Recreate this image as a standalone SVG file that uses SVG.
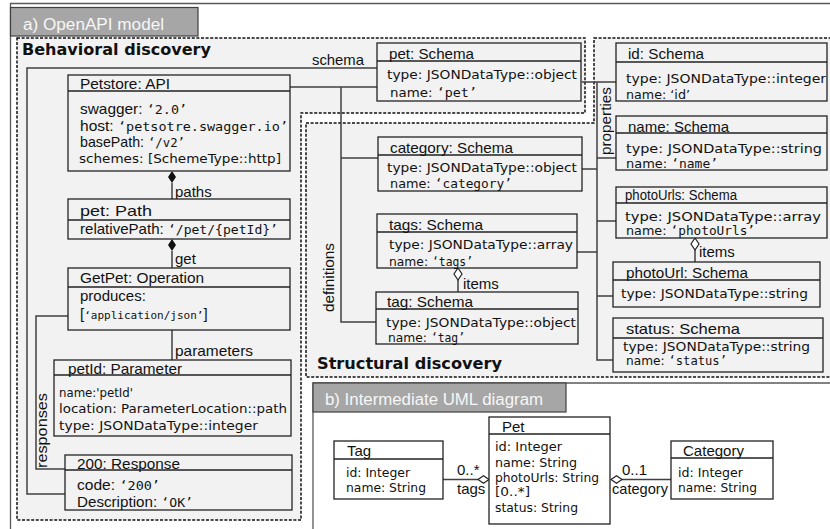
<svg xmlns="http://www.w3.org/2000/svg" width="830" height="529" viewBox="0 0 830 529">
<style>
.frame{fill:none;stroke:#595959;stroke-width:1.3}
.tab{fill:#a6a6a6;stroke:#404040;stroke-width:1.2}
.tabt{font-family:"Liberation Sans",Arial,sans-serif;font-size:16px;fill:#f7f7f7}
.reg{fill:#f2f2f2;stroke:#111;stroke-width:1.5;stroke-dasharray:3 1.6}
.regt{font-family:"DejaVu Sans",Verdana,sans-serif;font-weight:bold;font-size:16px;fill:#111}
.box{fill:#f2f2f2;stroke:#222;stroke-width:1.3}
.wbox{fill:#fff;stroke:#222;stroke-width:1.3}
.sep{stroke:#222;stroke-width:1.3}
.h{font-family:"Liberation Sans",Arial,sans-serif;font-size:15px;fill:#111}
.v{font-family:"DejaVu Sans",Verdana,sans-serif;font-size:13px;fill:#111}
.m{font-family:"DejaVu Sans Mono",Consolas,monospace;font-size:13px}
.conn{fill:none;stroke:#404040;stroke-width:1.5}
.fd{fill:#111}
.od{fill:#fff;stroke:#222;stroke-width:1.2}
</style>
<defs>
<polygon id="vd" points="0,0 4,6 0,12 -4,6"/>
<polygon id="hd" points="0,0 5.5,-3.8 11,0 5.5,3.8"/>
</defs>
<rect x="0" y="0" width="830" height="529" fill="#fff"/>

<!-- panel a -->
<g id="panel-a">
<path class="frame" d="M10.5,529 V3.5 H830"/>
<rect class="tab" x="10.5" y="7.5" width="187.5" height="28.5"/>
<text class="tabt" x="23" y="29.5" textLength="141" lengthAdjust="spacingAndGlyphs">a) OpenAPI model</text>
</g>

<g id="region-behavioral">
<polygon class="reg" points="17,38 585,38 585,113 301,113 301,520 17,520"/>
<text class="regt" x="22" y="55" textLength="189" lengthAdjust="spacingAndGlyphs">Behavioral discovery</text>
</g>
<g id="region-structural">
<polygon class="reg" points="594,38 832,38 832,377 306,377 306,123 594,123"/>
<text class="regt" x="317" y="369" textLength="185" lengthAdjust="spacingAndGlyphs">Structural discovery</text>
</g>

<!-- panel b -->
<g id="panel-b">
<rect x="313" y="383" width="520" height="150" fill="#fff"/>
<path class="frame" d="M313,529 V383 H830"/>
<rect class="tab" x="313" y="383" width="253" height="29"/>
<text class="tabt" x="325" y="404.5" textLength="218" lengthAdjust="spacingAndGlyphs">b) Intermediate UML diagram</text>
</g>

<!-- connectors -->
<g id="connectors">
<path class="conn" d="M377,68 H27 V494 H65"/>
<path class="conn" d="M68,316 H36 V469 H65"/>
<path class="conn" d="M172,183 V199"/>
<path class="conn" d="M172,251 V268"/>
<path class="conn" d="M172,330 V360"/>
<path class="conn" d="M290,87 H377 M341,87 V322 H376 M341,158 H378"/>
<path class="conn" d="M582,82 H616 M597,82 V360 H613 M597,158 H616 M597,221 H616 M597,296 H613 M582,169 H597 M577,252 H597"/>
<path class="conn" d="M458,280 V292"/>
<path class="conn" d="M695,250 V262"/>
<path class="conn" d="M443,479.5 H478 M622,479.5 H671"/>
<use href="#vd" class="fd" x="172" y="171"/>
<use href="#vd" class="fd" x="172" y="239"/>
<use href="#vd" class="od" x="458" y="268"/>
<use href="#vd" class="od" x="695" y="238"/>
<use href="#hd" class="od" x="478" y="479.5"/>
<use href="#hd" class="od" x="611" y="479.5"/>
<text class="h" x="312" y="65" textLength="52" lengthAdjust="spacingAndGlyphs">schema</text>
<text class="h" x="175" y="197">paths</text>
<text class="h" x="175" y="264">get</text>
<text class="h" x="175" y="356" textLength="78" lengthAdjust="spacingAndGlyphs">parameters</text>
<text class="h" transform="translate(47,468) rotate(-90)" textLength="75" lengthAdjust="spacingAndGlyphs">responses</text>
<text class="h" transform="translate(334,312) rotate(-90)" textLength="69" lengthAdjust="spacingAndGlyphs">definitions</text>
<text class="h" transform="translate(611,155) rotate(-90)" textLength="68" lengthAdjust="spacingAndGlyphs">properties</text>
<text class="h" x="463" y="289">items</text>
<text class="h" x="699" y="257">items</text>
<text class="h" x="457" y="475">0..*</text>
<text class="h" x="457" y="493.5">tags</text>
<text class="h" x="622" y="475">0..1</text>
<text class="h" x="612" y="493.5" textLength="56" lengthAdjust="spacingAndGlyphs">category</text>
</g>

<!-- behavioral nodes -->
<g id="petstore-api">
<rect class="box" x="68" y="75" width="222" height="96"/>
<line class="sep" x1="68" y1="91" x2="290" y2="91"/>
<text class="h" x="80" y="89" textLength="90" lengthAdjust="spacingAndGlyphs">Petstore: API</text>
<text class="h" x="80" y="114" textLength="107" lengthAdjust="spacingAndGlyphs">swagger: <tspan class="m">‘2.0’</tspan></text>
<text class="h" x="80" y="130.5" textLength="208" lengthAdjust="spacingAndGlyphs">host: <tspan class="m">‘petsotre.swagger.io’</tspan></text>
<text class="h" x="80" y="147" textLength="105" lengthAdjust="spacingAndGlyphs">basePath: <tspan class="m">‘/v2’</tspan></text>
<text class="v" x="79" y="163" textLength="202" lengthAdjust="spacingAndGlyphs">schemes: [SchemeType::http]</text>
</g>
<g id="pet-path">
<rect class="box" x="68" y="199" width="222" height="40"/>
<line class="sep" x1="68" y1="220" x2="290" y2="220"/>
<text class="h" x="80" y="216" textLength="72" lengthAdjust="spacingAndGlyphs">pet: Path</text>
<text class="h" x="80" y="234" textLength="198" lengthAdjust="spacingAndGlyphs">relativePath: <tspan class="m">‘/pet/{petId}’</tspan></text>
</g>
<g id="getpet-operation">
<rect class="box" x="68" y="268" width="222" height="62"/>
<line class="sep" x1="68" y1="287" x2="290" y2="287"/>
<text class="h" x="80" y="283" textLength="124" lengthAdjust="spacingAndGlyphs">GetPet: Operation</text>
<text class="h" x="80" y="301">produces:</text>
<text class="h" x="80" y="319">[<tspan class="m" style="font-size:11px">‘application/json’</tspan>]</text>
</g>
<g id="petid-parameter">
<rect class="box" x="54" y="360" width="237" height="76"/>
<line class="sep" x1="54" y1="375" x2="291" y2="375"/>
<text class="h" x="68" y="373.5" textLength="114" lengthAdjust="spacingAndGlyphs">petId: Parameter</text>
<text class="v" x="59" y="397" textLength="74" lengthAdjust="spacingAndGlyphs">name:'petId'</text>
<text class="v" x="59" y="413" textLength="228" lengthAdjust="spacingAndGlyphs">location: ParameterLocation::path</text>
<text class="v" x="59" y="430" textLength="199" lengthAdjust="spacingAndGlyphs">type: JSONDataType::integer</text>
</g>
<g id="response-200">
<rect class="box" x="65" y="455" width="227" height="55"/>
<line class="sep" x1="65" y1="470" x2="292" y2="470"/>
<text class="h" x="77" y="468.5" textLength="103" lengthAdjust="spacingAndGlyphs">200: Response</text>
<text class="h" x="77" y="490" textLength="83" lengthAdjust="spacingAndGlyphs">code: <tspan class="m">‘200’</tspan></text>
<text class="h" x="77" y="507" textLength="116" lengthAdjust="spacingAndGlyphs">Description: <tspan class="m">‘OK’</tspan></text>
</g>
<g id="pet-schema">
<rect class="box" x="377" y="43" width="204" height="58"/>
<line class="sep" x1="377" y1="61" x2="581" y2="61"/>
<text class="h" x="389" y="58.5" textLength="85" lengthAdjust="spacingAndGlyphs">pet: Schema</text>
<text class="v" x="387" y="79" textLength="190" lengthAdjust="spacingAndGlyphs">type: JSONDataType::object</text>
<text class="v" x="390" y="97" textLength="87" lengthAdjust="spacingAndGlyphs">name: <tspan class="m">‘pet’</tspan></text>
</g>

<!-- structural nodes -->
<g id="category-schema">
<rect class="box" x="378" y="137" width="204" height="54"/>
<line class="sep" x1="378" y1="155" x2="582" y2="155"/>
<text class="h" x="390" y="152.5" textLength="123" lengthAdjust="spacingAndGlyphs">category: Schema</text>
<text class="v" x="387" y="172" textLength="190" lengthAdjust="spacingAndGlyphs">type: JSONDataType::object</text>
<text class="v" x="390" y="187.5" textLength="122" lengthAdjust="spacingAndGlyphs">name: <tspan class="m">‘category’</tspan></text>
</g>
<g id="tags-schema">
<rect class="box" x="377" y="214" width="200" height="54"/>
<line class="sep" x1="377" y1="232" x2="577" y2="232"/>
<text class="h" x="389" y="229.5" textLength="94" lengthAdjust="spacingAndGlyphs">tags: Schema</text>
<text class="v" x="389" y="249" textLength="184" lengthAdjust="spacingAndGlyphs">type: JSONDataType::array</text>
<text class="v" x="389" y="266" textLength="84" lengthAdjust="spacingAndGlyphs">name: <tspan class="m" style="font-size:12px">‘tags’</tspan></text>
</g>
<g id="tag-schema">
<rect class="box" x="376" y="292" width="202" height="52"/>
<line class="sep" x1="376" y1="309" x2="578" y2="309"/>
<text class="h" x="387" y="307" textLength="86" lengthAdjust="spacingAndGlyphs">tag: Schema</text>
<text class="v" x="386" y="327" textLength="190" lengthAdjust="spacingAndGlyphs">type: JSONDataType::object</text>
<text class="v" x="388" y="341.5" textLength="77" lengthAdjust="spacingAndGlyphs">name: <tspan class="m" style="font-size:12px">‘tag’</tspan></text>
</g>
<g id="id-schema">
<rect class="box" x="616" y="43" width="211" height="58"/>
<line class="sep" x1="616" y1="62" x2="827" y2="62"/>
<text class="h" x="628" y="59" textLength="76" lengthAdjust="spacingAndGlyphs">id: Schema</text>
<text class="v" x="626" y="83" textLength="200" lengthAdjust="spacingAndGlyphs">type: JSONDataType::integer</text>
<text class="v" x="626" y="98.5" textLength="64" lengthAdjust="spacingAndGlyphs">name: ‘id’</text>
</g>
<g id="name-schema">
<rect class="box" x="616" y="116" width="211" height="54"/>
<line class="sep" x1="616" y1="133" x2="827" y2="133"/>
<text class="h" x="628" y="131.5" textLength="101" lengthAdjust="spacingAndGlyphs">name: Schema</text>
<text class="v" x="626" y="153" textLength="196" lengthAdjust="spacingAndGlyphs">type: JSONDataType::string</text>
<text class="v" x="626" y="168" textLength="92" lengthAdjust="spacingAndGlyphs">name: <tspan class="m">‘name’</tspan></text>
</g>
<g id="photourls-schema">
<rect class="box" x="616" y="187" width="211" height="51"/>
<line class="sep" x1="616" y1="203" x2="827" y2="203"/>
<text class="h" x="625" y="200" style="font-size:14px" textLength="112" lengthAdjust="spacingAndGlyphs">photoUrls: Schema</text>
<text class="v" x="625" y="221" textLength="196" lengthAdjust="spacingAndGlyphs">type: JSONDataType::array</text>
<text class="v" x="626" y="235" textLength="129" lengthAdjust="spacingAndGlyphs">name: <tspan class="m">‘photoUrls’</tspan></text>
</g>
<g id="photourl-schema">
<rect class="box" x="613" y="262" width="207" height="45"/>
<line class="sep" x1="613" y1="280" x2="820" y2="280"/>
<text class="h" x="626" y="277.5" textLength="122" lengthAdjust="spacingAndGlyphs">photoUrl: Schema</text>
<text class="v" x="621" y="298" textLength="187" lengthAdjust="spacingAndGlyphs">type: JSONDataType::string</text>
</g>
<g id="status-schema">
<rect class="box" x="613" y="318" width="210" height="54"/>
<line class="sep" x1="613" y1="338" x2="823" y2="338"/>
<text class="h" x="626" y="334" textLength="114" lengthAdjust="spacingAndGlyphs">status: Schema</text>
<text class="v" x="623" y="350.5" textLength="187" lengthAdjust="spacingAndGlyphs">type: JSONDataType::string</text>
<text class="v" x="626" y="365" textLength="101" lengthAdjust="spacingAndGlyphs">name: <tspan class="m">‘status’</tspan></text>
</g>

<g id="class-tag">
<rect class="wbox" x="334" y="441" width="109" height="58"/>
<line class="sep" x1="334" y1="459" x2="443" y2="459"/>
<text class="h" x="347" y="456">Tag</text>
<text class="v" x="346" y="476.5" textLength="64" lengthAdjust="spacingAndGlyphs">id: Integer</text>
<text class="v" x="346" y="491.5" textLength="80" lengthAdjust="spacingAndGlyphs">name: String</text>
</g>
<g id="class-pet">
<rect class="wbox" x="489" y="417" width="121" height="107"/>
<line class="sep" x1="489" y1="434" x2="610" y2="434"/>
<text class="h" x="502" y="432">Pet</text>
<text class="v" x="495" y="451" textLength="67" lengthAdjust="spacingAndGlyphs">id: Integer</text>
<text class="v" x="495" y="466.5" textLength="82" lengthAdjust="spacingAndGlyphs">name: String</text>
<text class="v" x="495" y="481.5" textLength="104" lengthAdjust="spacingAndGlyphs">photoUrls: String</text>
<text class="v" x="495" y="496" textLength="35" lengthAdjust="spacingAndGlyphs">[0..*]</text>
<text class="v" x="495" y="511.5" textLength="83" lengthAdjust="spacingAndGlyphs">status: String</text>
</g>
<g id="class-category">
<rect class="wbox" x="671" y="441" width="102" height="58"/>
<line class="sep" x1="671" y1="458" x2="773" y2="458"/>
<text class="h" x="683" y="456" textLength="61" lengthAdjust="spacingAndGlyphs">Category</text>
<text class="v" x="678" y="476.5" textLength="65" lengthAdjust="spacingAndGlyphs">id: Integer</text>
<text class="v" x="678" y="491.5" textLength="79" lengthAdjust="spacingAndGlyphs">name: String</text>
</g>
</svg>
